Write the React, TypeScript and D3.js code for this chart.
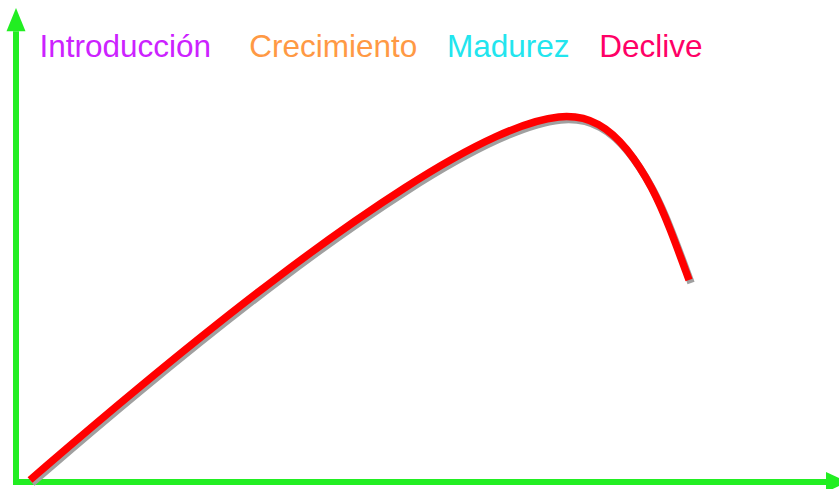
import React from "react";
import * as d3 from "d3";

const W = 839;
const H = 489;

// stage labels
const stages = ["Introducción", "Crecimiento", "Madurez", "Declive"];
const stageX = [2.9, 28.8, 53.2, 72.0];
const stageColors = ["#cc22ff", "#ff9944", "#22e5ee", "#ff0066"];

// product life-cycle curve (time, sales)
const timeVals = [1.73, 14.07, 32.59, 49.01, 59.75, 67.53, 72.1, 75.43, 78.64, 80.74, 83.09];
const salesVals = [0.42, 18.64, 44.28, 63.98, 74.15, 78.4, 76.27, 70.97, 62.29, 53.81, 42.8];

export default function App() {
  const x = d3.scaleLinear().domain([0, 100]).range([16, 826]);
  const y = d3.scaleLinear().domain([0, 100]).range([482, 10]);
  const pts: [number, number][] = timeVals.map((t, i) => [t, salesVals[i]]);
  const line = d3
    .line<[number, number]>()
    .x((d) => x(d[0]))
    .y((d) => y(d[1]))
    .curve(d3.curveBasis);
  const path = line(pts) || "";
  const green = "#22ee22";
  const x0 = x(0);
  const y0 = y(0);
  return (
    <svg
      width={W}
      height={H}
      style={{ position: "absolute", left: 0, top: 0, background: "#fff" }}
      fontFamily="'Liberation Sans', Arial, sans-serif"
    >
      {/* axes */}
      <line x1={x0} y1={y0 + 3} x2={x0} y2={y(95.5)} stroke={green} strokeWidth={6} />
      <polygon
        points={`${x0},${y(100) - 2} ${x0 - 9.5},${y(95.5)} ${x0 + 9.5},${y(95.5)}`}
        fill={green}
      />
      <line x1={x0 - 3} y1={y0} x2={x(100)} y2={y0} stroke={green} strokeWidth={6} />
      <polygon
        points={`${x(100) + 22},${y0} ${x(100)},${y0 - 10} ${x(100)},${y0 + 10}`}
        fill={green}
      />
      {/* curve shadow */}
      <path
        d={path}
        transform="translate(2,3)"
        fill="none"
        stroke="#a0a0a0"
        strokeWidth={7.5}
      />
      <path d={path} fill="none" stroke="#ff0000" strokeWidth={7.5} />
      {/* stage labels */}
      {stages.map((s, i) => (
        <text key={s} x={x(stageX[i])} y={57} fontSize={31.5} fill={stageColors[i]}>
          {s}
        </text>
      ))}
    </svg>
  );
}
